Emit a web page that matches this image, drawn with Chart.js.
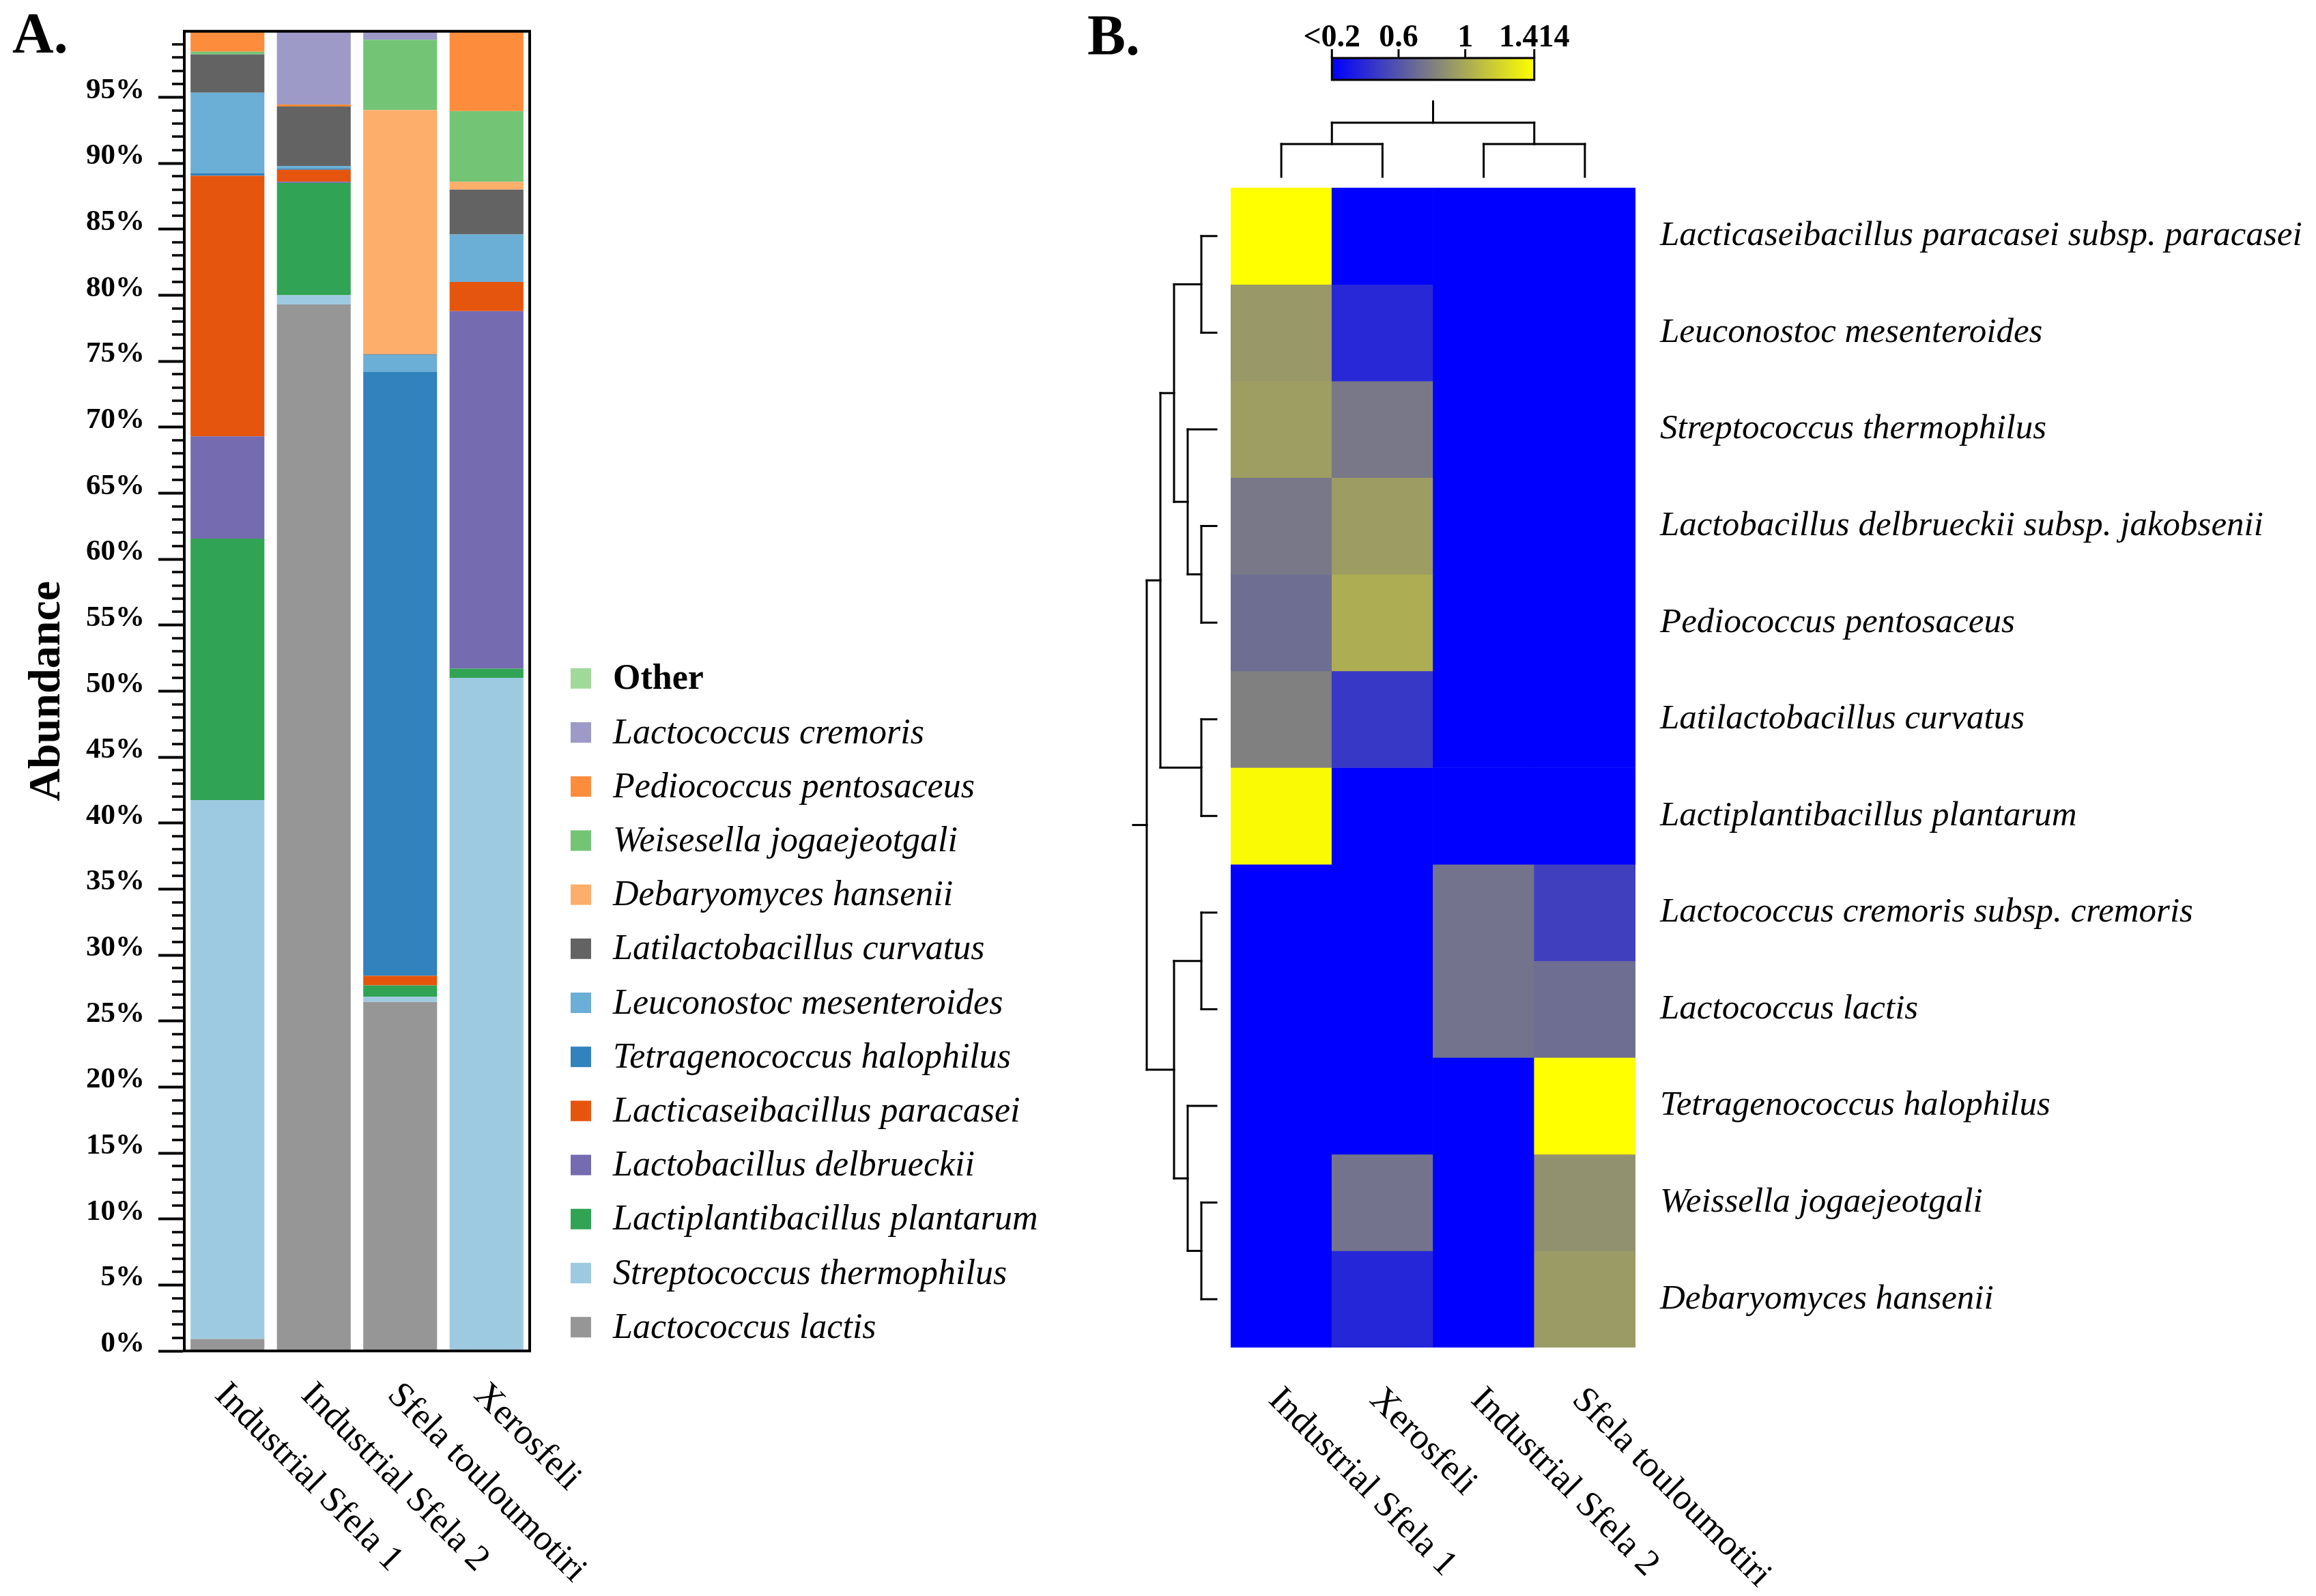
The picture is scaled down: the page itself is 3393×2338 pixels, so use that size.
<!DOCTYPE html>
<html>
<head>
<meta charset="utf-8">
<script src="https://cdn.jsdelivr.net/npm/chart.js@4.4.1/dist/chart.umd.min.js"></script>
<style>
  html, body { margin: 0; padding: 0; background: #fff; width: 3393px; height: 2338px; overflow: hidden; }
  canvas { position: absolute; left: 0; top: 0; width: 3393px; height: 2338px; }
</style>
</head>
<body>
<canvas id="bars" width="3393" height="2338"></canvas>
<canvas id="heat" width="3393" height="2338"></canvas>
<script>
// ---------------- Panel A data (relative abundance, %) ----------------
const sampleLabels = ['Industrial Sfela 1', 'Industrial Sfela 2', 'Sfela touloumotiri', 'Xerosfeli'];

const lactococcusLactis            = [0.9, 79.3, 26.45, 0.05];
const streptococcusThermophilus    = [40.85, 0.7, 0.38, 50.95];
const lactiplantibacillusPlantarum = [19.8, 8.5, 0.87, 0.7];
const lactobacillusDelbrueckii     = [7.75, 0.1, 0, 27.1];
const lacticaseibacillusParacasei  = [19.75, 0.9, 0.72, 2.2];
const tetragenococcusHalophilus    = [0.2, 0.1, 45.76, 0];
const leuconostocMesenteroides     = [6.1, 0.2, 1.3, 3.6];
const latilactobacillusCurvatus    = [2.9, 4.5, 0.05, 3.4];
const debaryomycesHansenii         = [0, 0, 18.5, 0.6];
const weisesellaJogaejeotgali      = [0.2, 0, 5.33, 5.35];
const pediococcusPentosaceus       = [1.5, 0.15, 0, 6.03];
const lactococcusCremoris          = [0, 5.55, 0.65, 0];
const otherTaxa                    = [0.05, 0, 0, 0];

// stack order: bottom -> top
const stackNames = ['Lactococcus lactis', 'Streptococcus thermophilus', 'Lactiplantibacillus plantarum',
  'Lactobacillus delbrueckii', 'Lacticaseibacillus paracasei', 'Tetragenococcus halophilus',
  'Leuconostoc mesenteroides', 'Latilactobacillus curvatus', 'Debaryomyces hansenii',
  'Weisesella jogaejeotgali', 'Pediococcus pentosaceus', 'Lactococcus cremoris', 'Other'];
const stackValues = [lactococcusLactis, streptococcusThermophilus, lactiplantibacillusPlantarum,
  lactobacillusDelbrueckii, lacticaseibacillusParacasei, tetragenococcusHalophilus,
  leuconostocMesenteroides, latilactobacillusCurvatus, debaryomycesHansenii,
  weisesellaJogaejeotgali, pediococcusPentosaceus, lactococcusCremoris, otherTaxa];
const stackColors = ['#969696', '#9ecae1', '#31a354', '#756bb1', '#e6550d', '#3182bd',
  '#6baed6', '#636363', '#fdae6b', '#74c476', '#fd8d3c', '#9e9ac8', '#a1d99b'];

const yTickStep = 5;

// ---------------- Panel B data (heatmap) ----------------
const heatSamples = ['Industrial Sfela 1', 'Xerosfeli', 'Industrial Sfela 2', 'Sfela touloumotiri'];
const heatTaxa = ['Lacticaseibacillus paracasei subsp. paracasei', 'Leuconostoc mesenteroides',
  'Streptococcus thermophilus', 'Lactobacillus delbrueckii subsp. jakobsenii', 'Pediococcus pentosaceus',
  'Latilactobacillus curvatus', 'Lactiplantibacillus plantarum', 'Lactococcus cremoris subsp. cremoris',
  'Lactococcus lactis', 'Tetragenococcus halophilus', 'Weissella jogaejeotgali', 'Debaryomyces hansenii'];
const heatIndustrial1   = [1.414, 0.92, 0.95, 0.77, 0.72, 0.807, 1.39, 0.1, 0.1, 0.1, 0.1, 0.1];
const heatXerosfeli     = [0.1, 0.39, 0.77, 0.945, 1.02, 0.466, 0.1, 0.1, 0.1, 0.1, 0.745, 0.38];
const heatIndustrial2   = [0.1, 0.1, 0.1, 0.1, 0.1, 0.1, 0.1, 0.745, 0.745, 0.1, 0.1, 0.1];
const heatTouloumotiri  = [0.1, 0.1, 0.1, 0.1, 0.1, 0.1, 0.1, 0.504, 0.722, 1.414, 0.888, 0.936];
const heatColumns = [heatIndustrial1, heatXerosfeli, heatIndustrial2, heatTouloumotiri];

const colorbarTicks  = [0.2, 0.6, 1, 1.414];
const colorbarLabels = ['<0.2', '0.6', '1', '1.414'];

// dendrograms: [childA, childB, mergeHeight]; leaves 0..n-1, merged nodes n, n+1, ...
const rowLinkage = [[0, 1, 1], [3, 4, 1], [2, 13, 2], [12, 14, 3], [5, 6, 1], [15, 16, 4],
  [7, 8, 1], [10, 11, 1], [9, 19, 2], [18, 20, 3], [17, 21, 5]];
const rowRootStub = 6;
const colLinkage = [[0, 1, 1], [2, 3, 1], [4, 5, 1.65]];
const colRootStub = 2.3;

// ---------------- helpers ----------------
const VMIN = colorbarTicks[0], VMAX = colorbarTicks[colorbarTicks.length - 1];
const C_LOW = [0, 0, 255], C_MID = [128, 128, 128], C_HIGH = [255, 255, 0];
function heatColor(v) {
  const t = Math.max(0, Math.min(1, (v - VMIN) / (VMAX - VMIN)));
  let a, b, f;
  if (t <= 0.5) { a = C_LOW; b = C_MID; f = t / 0.5; } else { a = C_MID; b = C_HIGH; f = (t - 0.5) / 0.5; }
  const c = a.map((x, i) => Math.round(x + (b[i] - x) * f));
  return `rgb(${c[0]},${c[1]},${c[2]})`;
}

function drawDendrogram(ctx, linkage, nLeaves, leafPos, heightPos, stub, horizontalLeaves) {
  const nodes = [];
  for (let i = 0; i < nLeaves; i++) nodes.push({ p: leafPos(i), h: 0 });
  const seg = (h1, p1, h2, p2) => {
    const a = heightPos(h1), b = heightPos(h2);
    ctx.beginPath();
    if (horizontalLeaves) { ctx.moveTo(a, p1); ctx.lineTo(b, p2); }
    else { ctx.moveTo(p1, a); ctx.lineTo(p2, b); }
    ctx.stroke();
  };
  linkage.forEach(([c1, c2, h]) => {
    const n1 = nodes[c1], n2 = nodes[c2];
    seg(n1.h, n1.p, h, n1.p);
    seg(n2.h, n2.p, h, n2.p);
    seg(h, n1.p, h, n2.p);
    nodes.push({ p: (n1.p + n2.p) / 2, h });
  });
  const root = nodes[nodes.length - 1];
  seg(root.h, root.p, stub, root.p);
}

function drawRotatedLabels(ctx, scale, labels, top) {
  ctx.save();
  ctx.fillStyle = '#000';
  ctx.font = '53px "Liberation Serif"';
  ctx.textAlign = 'left';
  ctx.textBaseline = 'top';
  labels.forEach((s, i) => {
    const px = scale.getPixelForValue(i);
    ctx.save();
    ctx.translate(px + 8, top);
    ctx.rotate(Math.PI / 4);
    ctx.fillText(s, 0, 0);
    ctx.restore();
  });
  ctx.restore();
}

// ---------------- Panel A chart ----------------
const barDecor = {
  id: 'barDecor',
  afterDatasetsDraw(chart) {
    const { ctx, chartArea: a, scales: { x, y } } = chart;
    ctx.save();
    ctx.strokeStyle = '#000';
    ctx.lineWidth = 3.5;
    for (let v = 1; v < 100; v++) {
      if (v % yTickStep === 0) continue;
      const py = Math.round(y.getPixelForValue(v));
      ctx.beginPath(); ctx.moveTo(a.left - 18, py); ctx.lineTo(a.left, py); ctx.stroke();
    }
    ctx.lineWidth = 4;
    ctx.strokeRect(a.left, a.top, a.right - a.left, a.bottom - a.top);
    ctx.restore();

    drawRotatedLabels(ctx, x, sampleLabels, a.bottom + 38);

    // legend (top item = top of stack)
    ctx.save();
    const ds = chart.data.datasets.slice().reverse();
    ds.forEach((d, i) => {
      const cy = a.top + 948 + i * 79.2;
      ctx.fillStyle = d.backgroundColor;
      ctx.fillRect(a.right + 60, cy - 15, 30, 30);
      ctx.fillStyle = '#000';
      ctx.font = (d.label === 'Other' ? 'bold ' : 'italic ') + '52px "Liberation Serif"';
      ctx.textAlign = 'left';
      ctx.textBaseline = 'middle';
      ctx.fillText(d.label, a.right + 122, cy + 2);
    });
    ctx.font = 'bold 84px "Liberation Serif"';
    ctx.textBaseline = 'alphabetic';
    ctx.fillText('A.', 18, 77);
    ctx.restore();
  }
};

new Chart(document.getElementById('bars'), {
  type: 'bar',
  data: {
    labels: sampleLabels,
    datasets: stackNames.map((n, i) => ({
      label: n,
      data: stackValues[i],
      backgroundColor: stackColors[i],
      borderWidth: 0,
      barPercentage: 0.855,
      categoryPercentage: 1
    }))
  },
  options: {
    responsive: false,
    devicePixelRatio: 1,
    animation: false,
    events: [],
    layout: { padding: { left: 0, top: 33, right: 3393 - 776, bottom: 2338 - 1979 } },
    plugins: { legend: { display: false }, tooltip: { enabled: false } },
    scales: {
      x: { stacked: true, display: false },
      y: {
        stacked: true, min: 0, max: 100,
        afterBuildTicks: s => { s.ticks = s.ticks.filter(t => t.value < 100); },
        afterFit: s => { s.width = 270; },
        ticks: {
          stepSize: yTickStep,
          callback: v => v + '%',
          color: '#000',
          padding: 20,
          labelOffset: -10,
          font: { family: 'Liberation Serif', weight: 'bold', size: 43 }
        },
        grid: { display: true, drawOnChartArea: false, drawTicks: true, tickLength: 38, tickWidth: 4, tickColor: '#000', color: '#000' },
        border: { display: true, color: '#000', width: 4 },
        title: {
          display: true, text: 'Abundance', color: '#000',
          font: { family: 'Liberation Serif', weight: 'bold', size: 66 },
          padding: { top: 30, bottom: 0 }
        }
      }
    }
  },
  plugins: [barDecor]
});

// ---------------- Panel B chart ----------------
const heatDecor = {
  id: 'heatDecor',
  afterDatasetsDraw(chart) {
    const { ctx, chartArea: a, scales: { x, y } } = chart;
    ctx.save();
    ctx.strokeStyle = '#000';
    ctx.lineWidth = 3;
    ctx.lineCap = 'square';
    // row dendrogram (left)
    drawDendrogram(ctx, rowLinkage, heatTaxa.length,
      i => y.getPixelForValue(i + 0.5),
      h => h === 0 ? a.left - 21 : a.left - 23 - 20 * h,
      rowRootStub, true);
    // column dendrogram (top)
    drawDendrogram(ctx, colLinkage, heatSamples.length,
      i => x.getPixelForValue(i),
      h => a.top - 16 - 48 * h,
      colRootStub, false);

    // colour bar
    const x0 = x.getPixelForValue(0.5), x1 = x.getPixelForValue(2.5);
    const yb0 = a.top - 190, yb1 = a.top - 158;
    const g = ctx.createLinearGradient(x0, 0, x1, 0);
    g.addColorStop(0, heatColor(VMIN));
    g.addColorStop(0.5, heatColor((VMIN + VMAX) / 2));
    g.addColorStop(1, heatColor(VMAX));
    ctx.fillStyle = g;
    ctx.fillRect(x0, yb0, x1 - x0, yb1 - yb0);
    ctx.lineCap = 'butt';
    ctx.strokeRect(x0, yb0, x1 - x0, yb1 - yb0);
    ctx.fillStyle = '#000';
    ctx.font = 'bold 46px "Liberation Serif"';
    ctx.textAlign = 'center';
    ctx.textBaseline = 'alphabetic';
    colorbarTicks.forEach((v, i) => {
      const px = x0 + (v - VMIN) / (VMAX - VMIN) * (x1 - x0);
      ctx.beginPath(); ctx.moveTo(px, yb0); ctx.lineTo(px, yb0 - 13); ctx.stroke();
      ctx.fillText(colorbarLabels[i], px, yb0 - 17);
    });
    ctx.font = 'bold 84px "Liberation Serif"';
    ctx.textAlign = 'left';
    ctx.fillText('B.', 1593, 80);
    ctx.restore();

    drawRotatedLabels(ctx, x, heatSamples, a.bottom + 50);
  }
};

new Chart(document.getElementById('heat'), {
  type: 'bar',
  data: {
    labels: heatSamples,
    datasets: heatTaxa.map((name, r) => ({
      label: name,
      data: heatSamples.map(() => 1),
      backgroundColor: heatColumns.map(col => heatColor(col[r])),
      borderWidth: 0,
      barPercentage: 1,
      categoryPercentage: 1
    }))
  },
  options: {
    responsive: false,
    devicePixelRatio: 1,
    animation: false,
    events: [],
    layout: { padding: { left: 1803, top: 275, right: 0, bottom: 2338 - 1974 } },
    plugins: { legend: { display: false }, tooltip: { enabled: false } },
    scales: {
      x: { stacked: true, display: false },
      y: {
        stacked: true, min: 0, max: heatTaxa.length, reverse: true, position: 'right',
        afterBuildTicks: s => { s.ticks = heatTaxa.map((_, i) => ({ value: i + 0.5 })); },
        afterFit: s => { s.width = 3393 - 2396; },
        grid: { display: false, drawTicks: false },
        border: { display: false },
        ticks: {
          autoSkip: false,
          padding: 36,
          color: '#000',
          font: { family: 'Liberation Serif', style: 'italic', size: 51 },
          callback: (v, i) => heatTaxa[i]
        }
      }
    }
  },
  plugins: [heatDecor]
});
</script>
</body>
</html>
